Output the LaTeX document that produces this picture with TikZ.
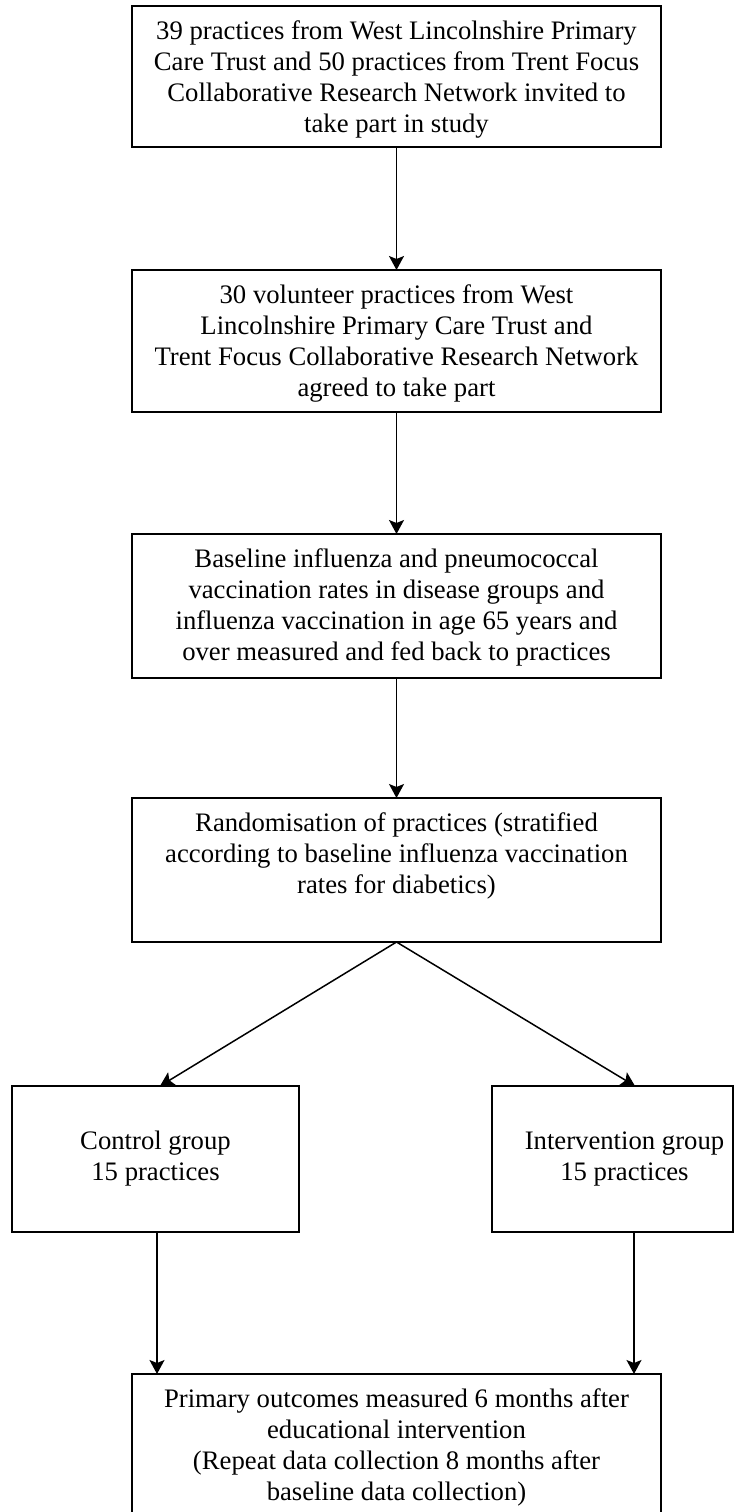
\documentclass[tikz,border=0pt]{standalone}
\usepackage{fontspec}
\setmainfont{Liberation Serif}
\usetikzlibrary{arrows.meta,calc}
\newcommand{\fbtext}[4]{\parbox[c][#2][t]{#1}{\centering\rule{0pt}{#3}#4\par}}
\tikzset{
  boxst/.style={draw, line width=1.8pt, inner sep=0pt, outer sep=0pt},
  arr/.style={line width=1.5pt, -{Stealth[length=14pt,width=15pt,inset=3pt]}},
  every node/.style={font=\fontsize{26.7pt}{31pt}\selectfont}
}
\begin{document}
\begin{tikzpicture}[x=1pt,y=-1pt]
\useasboundingbox (0,0) rectangle (744,1512);
\node[boxst] (b1) at (396.5,76.5) {\fbtext{529pt}{141pt}{33.5pt}{39 practices from West Lincolnshire Primary\\ Care Trust and 50 practices from Trent Focus\\ Collaborative Research Network invited to\\ take part in study}};
\node[boxst] (b2) at (396.5,341) {\fbtext{529pt}{142pt}{33.5pt}{30 volunteer practices from West\\ Lincolnshire Primary Care Trust and\\ Trent Focus Collaborative Research Network\\ agreed to take part}};
\node[boxst] (b3) at (396.5,606) {\fbtext{529pt}{144pt}{33.5pt}{Baseline influenza and pneumococcal\\ vaccination rates in disease groups and\\ influenza vaccination in age 65 years and\\ over measured and fed back to practices}};
\node[boxst] (b4) at (396.5,870) {\fbtext{529pt}{144pt}{33.5pt}{Randomisation of practices (stratified\\ according to baseline influenza vaccination\\ rates for diabetics)}};
\node[boxst] (ctrl) at (155.5,1159) {\fbtext{287pt}{146pt}{63pt}{Control group\\ 15 practices}};
\node[boxst] (int) at (612.5,1159) {\fbtext{241pt}{146pt}{63pt}{\leftskip=24pt plus 1fil\relax Intervention group\\ 15 practices}};
\node[boxst] (bot) at (396.5,1444) {\fbtext{529pt}{140pt}{33.5pt}{Primary outcomes measured 6 months after\\ educational intervention\\ (Repeat data collection 8 months after\\ baseline data collection)}};
\draw[arr] (b1.south) -- (b2.north);
\draw[arr] (b2.south) -- (b3.north);
\draw[arr] (b3.south) -- (b4.north);
\draw[arr] (b4.south) -- ([xshift=4.5pt]ctrl.north);
\draw[arr] (b4.south) -- ([xshift=22.5pt]int.north);
\draw[arr] ([xshift=1.5pt]ctrl.south) -- ([xshift=1.5pt]ctrl.south |- bot.north);
\draw[arr] ([xshift=21.5pt]int.south) -- ([xshift=21.5pt]int.south |- bot.north);
\end{tikzpicture}
\end{document}
